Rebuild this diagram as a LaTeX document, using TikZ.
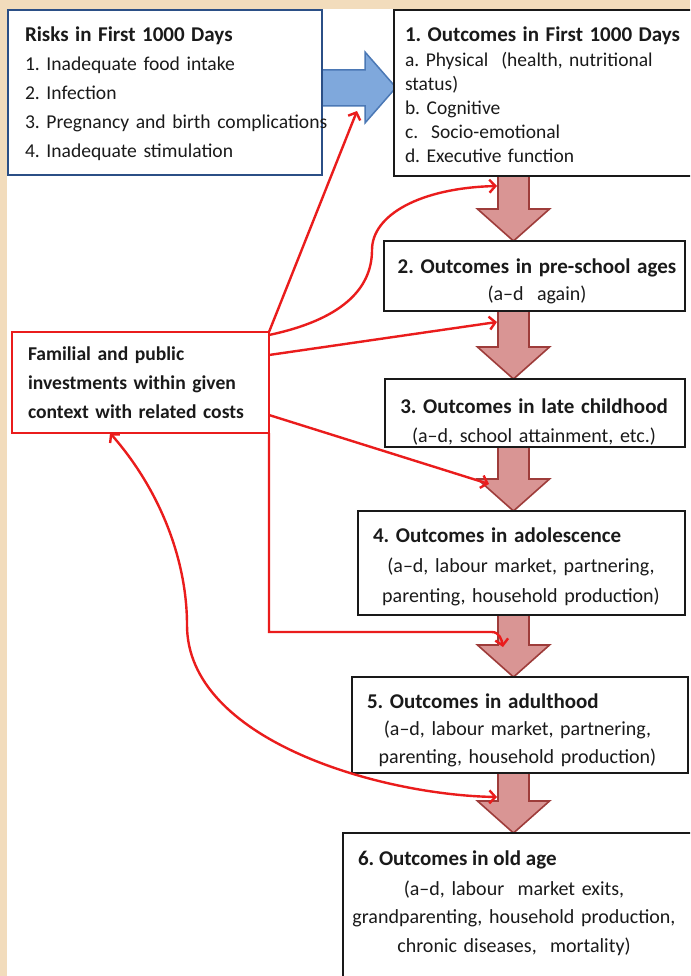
\documentclass[tikz,border=0pt]{standalone}
\usepackage{fontspec}
\setmainfont{Carlito}
\usetikzlibrary{arrows.meta}
\frenchspacing
\hyphenpenalty=10000
\exhyphenpenalty=10000
\definecolor{beige}{HTML}{F2DCBC}
\definecolor{riskblue}{HTML}{2B4F86}
\definecolor{arrblue}{HTML}{7FA8DC}
\definecolor{arrblueline}{HTML}{4B78B5}
\definecolor{pinkfill}{HTML}{D99594}
\definecolor{pinkline}{HTML}{9E3C3A}
\definecolor{linered}{HTML}{EA1C1C}
\definecolor{txt}{HTML}{1A1A1A}
\newcommand\pinkdown[2]{\draw[pinkarr] (498,#1) -- (529,#1) -- (529,#2-32) -- (549.5,#2-32) -- (513.5,#2) -- (477.5,#2-32) -- (498,#2-32) -- cycle;}
\newcommand\hd[1]{{\fontsize{21}{24}\selectfont\bfseries #1}}
\begin{document}
\begin{tikzpicture}[x=1pt,y=-1pt,
  box/.style={draw, line width=2.7pt, fill=white, inner sep=0pt, outer sep=0pt, anchor=north west},
  obox/.style={box, draw=black!90},
  rbox/.style={box, draw=riskblue},
  fbox/.style={box, draw=linered},
  txtnode/.style={inner sep=0pt, outer sep=0pt, text=txt},
  pinkarr/.style={fill=pinkfill, draw=pinkline, line width=1.6pt, line join=miter},
  bluearr/.style={fill=arrblue, draw=arrblueline, line width=1.5pt, line join=miter},
  redcon/.style={draw=linered, line width=2.4pt, -{Straight Barb[length=6pt,width=13pt]}},
  redboth/.style={draw=linered, line width=2.4pt, {Straight Barb[length=6pt,width=13pt]}-{Straight Barb[length=6pt,width=13pt]}},
]
\useasboundingbox (0,0) rectangle (690,976);
\clip (0,0) rectangle (690,976);
\fill[beige] (0,0) rectangle (690,976);
\fill[white] (7,9) rectangle (690,976);

% block arrows
\draw[bluearr] (318,70) -- (365,70) -- (365,52) -- (396,87.5) -- (365,123) -- (365,106) -- (318,106) -- cycle;
\pinkdown{175}{241}
\pinkdown{310}{379}
\pinkdown{446}{511}
\pinkdown{614}{677}
\pinkdown{772}{833}

% boxes
\node[rbox, minimum width=314pt, minimum height=165pt] (risk) at (8,10) {};
\node[obox, minimum width=310pt, minimum height=166pt] (b1) at (394,10) {};
\node[obox, minimum width=301pt, minimum height=70pt] (b2) at (384,241) {};
\node[obox, minimum width=300pt, minimum height=68pt] (b3) at (385,379) {};
\node[obox, minimum width=327pt, minimum height=104pt] (b4) at (358,511) {};
\node[obox, minimum width=336pt, minimum height=96pt] (b5) at (352,677) {};
\node[obox, minimum width=360pt, minimum height=160pt] (b6) at (343,833) {};
\node[fbox, minimum width=257pt, minimum height=101pt] (fam) at (12,332) {};

% texts
\node[txtnode, anchor=base west, text width=310pt, align=left, font=\fontsize{19.6}{28.8}\selectfont] (riskT) at (25,42)
  {\hd{Risks in First 1000 Days}\\1. Inadequate food intake\\2. Infection\\3. Pregnancy and birth complications\\4. Inadequate stimulation};
\node[txtnode, anchor=base west, text width=290pt, align=left, font=\fontsize{19.5}{24}\selectfont] (b1T) at (405,42)
  {\hd{1. Outcomes in First 1000 Days}\\[1pt]a. Physical\ \ (health, nutritional\\status)\\b. Cognitive\\c.\ \ Socio-emotional\\d. Executive function};
\node[txtnode, anchor=base, text width=290pt, align=center, font=\fontsize{20}{27.5}\selectfont] (b2T) at (537,273)
  {\hd{2. Outcomes in pre-school ages}\\(a–d\ \ again)};
\node[txtnode, anchor=base, text width=290pt, align=center, font=\fontsize{20}{29}\selectfont] (b3T) at (534,413)
  {\hd{3. Outcomes in late childhood}\\(a–d, school attainment, etc.)};
\node[txtnode, anchor=base west, text width=296pt, align=center, font=\fontsize{20}{30}\selectfont] (b4T) at (373,542)
  {\makebox[\linewidth][l]{\hd{4. Outcomes in adolescence}}\\(a–d, labour market, partnering,\\parenting, household production)};
\node[txtnode, anchor=base west, text width=301pt, align=center, font=\fontsize{20}{27.5}\selectfont] (b5T) at (367,708)
  {\makebox[\linewidth][l]{\hd{5. Outcomes in adulthood}}\\(a–d, labour market, partnering,\\parenting, household production)};
\node[txtnode, anchor=base west] (b6H) at (358,865) {\hd{6. Outcomes in old age}};
\node[txtnode, anchor=base, text width=400pt, align=center, font=\fontsize{20}{28.5}\selectfont] (b6T) at (514,895)
  {(a–d, labour\ \ market exits,\\grandparenting, household production,\\chronic diseases,\ \ mortality)};
\node[txtnode, anchor=base west, text width=240pt, align=left, font=\fontsize{19.6}{29}\selectfont\bfseries] (famT) at (28,360)
  {Familial and public\\investments within given\\context with related costs};

% red connectors
\coordinate (tB) at (357,111);
\coordinate (t12) at (497,186);
\coordinate (t23) at (497,322);
\coordinate (t34) at (489,484);
\coordinate (c45) at (492,632);
\coordinate (t45) at (503,647);
\coordinate (t56) at (497,797);
\draw[redcon] (fam.north east) -- (tB);
\draw[redcon] ([yshift=-3pt]fam.north east) .. controls (340,320) and (372,290) .. (372,250) .. controls (372,215) and (420,188) .. (t12);
\draw[redcon] ([yshift=-23pt]fam.north east) -- (t23);
\draw[redcon] ([yshift=-83pt]fam.north east) -- (t34);
\draw[redcon] (fam.south east) |- (c45) to[out=0,in=100] (t45);
\draw[redboth] ([xshift=98pt]fam.south west) .. controls (160,490) and (187,560) .. (187,625) .. controls (187,740) and (380,795) .. (t56);
\end{tikzpicture}
\end{document}
